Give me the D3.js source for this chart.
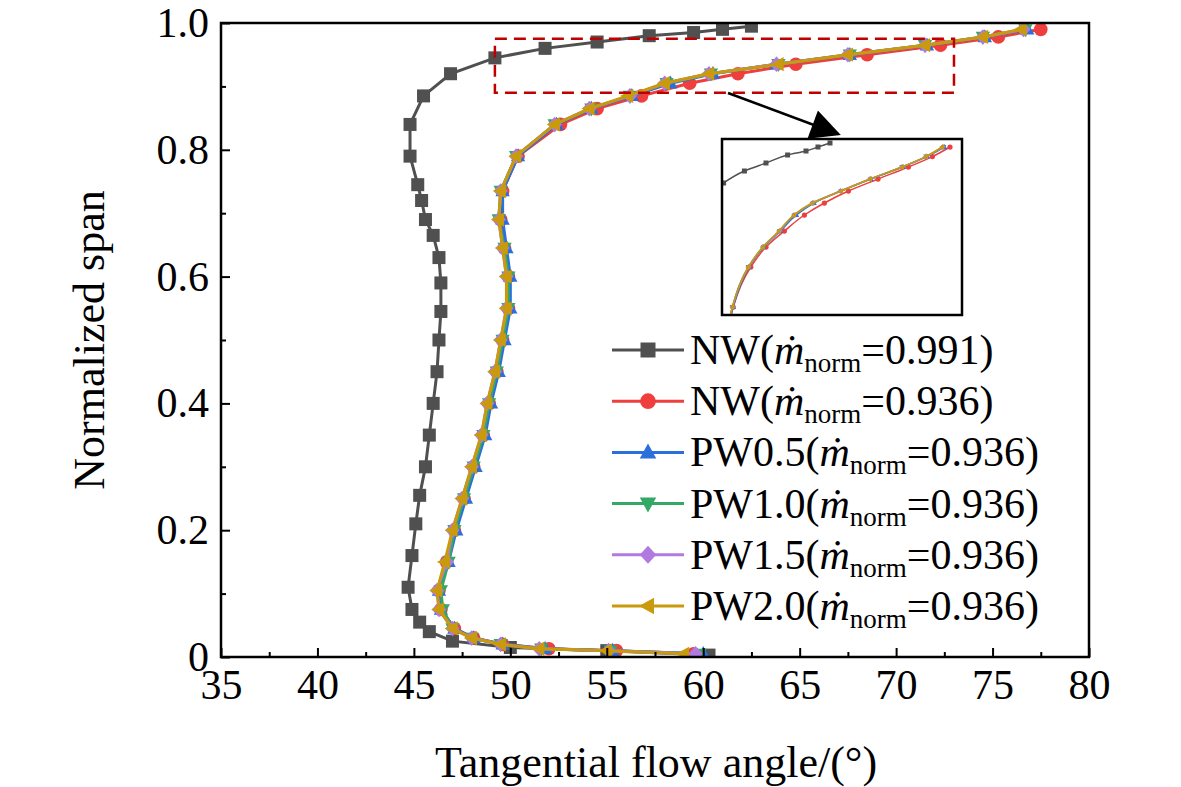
<!DOCTYPE html>
<html><head><meta charset="utf-8">
<script src="https://cdn.jsdelivr.net/npm/d3@7"></script>
<style>body{margin:0;background:#fff}text{font-family:"Liberation Serif","Times New Roman",serif}</style>
</head><body><svg id="c" width="1181" height="787"></svg>
<script>
// NW (mdot=0.991)
var spanNW991 = [0.003,0.01,0.015,0.025,0.04,0.055,0.075,0.11,0.16,0.21,0.255,0.30,0.35,0.40,0.45,0.50,0.545,0.59,0.63,0.665,0.69,0.72,0.745,0.79,0.84,0.885,0.92,0.945,0.96,0.97,0.98,0.985,0.99,0.995];
var angleNW991 = [60.3,55,50,47,45.8,45.3,44.9,44.7,44.9,45.1,45.3,45.6,45.8,46.0,46.2,46.3,46.4,46.4,46.3,46.0,45.6,45.4,45.2,44.8,44.8,45.5,46.9,49.2,51.8,54.5,57.2,59.5,61,62.5];
// other cases share the span stations
var spanLow = [0.005,0.01,0.013,0.02,0.03,0.045,0.075,0.105,0.15,0.2,0.25,0.3,0.35,0.4,0.45,0.5,0.55,0.6,0.645,0.69,0.735,0.79,0.84,0.865,0.885,0.905,0.92,0.935,0.95,0.965,0.978,0.99];
var angleNW936  = [59.5,55.5,52,49.6,48.1,47.1,46.4,46.3,46.7,47.1,47.6,48.1,48.6,48.9,49.3,49.6,49.9,49.9,49.7,49.5,49.6,50.4,52.6,54.5,56.8,59.3,61.8,64.8,68.5,72.3,75.3,77.5];
var anglePW05   = [60.0,55.3,51.8,49.6,48.1,47.1,46.4,46.3,46.8,47.2,47.7,48.2,48.7,49.0,49.4,49.7,50.0,50.0,49.8,49.6,49.6,50.4,52.4,54.2,56.3,58.3,60.5,63.8,67.6,71.6,74.6,76.8];
var anglePW10   = [59.8,55.2,51.6,49.5,48.0,47.0,46.5,46.4,46.8,47.1,47.6,48.1,48.6,48.9,49.3,49.6,49.9,49.9,49.7,49.4,49.5,50.3,52.3,54.2,56.2,58.1,60.4,63.9,67.6,71.5,74.5,76.7];
var anglePW15   = [59.6,55.1,51.5,49.5,48.0,47.0,46.3,46.2,46.7,47.0,47.5,48.0,48.5,48.8,49.2,49.5,49.8,49.8,49.6,49.4,49.5,50.3,52.3,54.1,56.2,58.0,60.3,63.8,67.5,71.5,74.5,76.6];
var anglePW20   = [59.0,55.0,51.5,49.5,48.0,47.0,46.3,46.2,46.6,47.0,47.5,48.0,48.5,48.8,49.2,49.5,49.8,49.8,49.6,49.4,49.5,50.3,52.3,54.1,56.1,58.0,60.3,63.9,67.5,71.5,74.5,76.5];
var seriesNames = ["NW(", "NW(", "PW0.5(", "PW1.0(", "PW1.5(", "PW2.0("];
var massFlow = ["0.991","0.936","0.936","0.936","0.936","0.936"];
var colors = ["#505050","#ef3e3e","#2a6fdb","#34a865","#b07ae0","#c99a0c"];
var shapes = ["square","circle","triUp","triDown","diamond","triLeft"];
var xTicks = [35,40,45,50,55,60,65,70,75,80];
var yTicks = [0,0.2,0.4,0.6,0.8,1.0];

var series = [
  {x: angleNW991, y: spanNW991},
  {x: angleNW936, y: spanLow},
  {x: anglePW05, y: spanLow},
  {x: anglePW10, y: spanLow},
  {x: anglePW15, y: spanLow},
  {x: anglePW20, y: spanLow}
];

var svg = d3.select("#c");
var L = 221, R = 1089, T = 23, B = 657;
var x = d3.scaleLinear().domain([35,80]).range([L,R]);
var y = d3.scaleLinear().domain([0,1]).range([B,T]);

function marker(g, shape, size, col) {
  var s = size/2, p;
  if (shape == "square") return g.append("rect").attr("x",-s).attr("y",-s).attr("width",size).attr("height",size).attr("fill",col);
  if (shape == "circle") return g.append("circle").attr("r",s*1.05).attr("fill",col);
  if (shape == "triUp") p = [[0,-s*1.2],[s*1.1,s*0.8],[-s*1.1,s*0.8]];
  if (shape == "triDown") p = [[0,s*1.2],[s*1.1,-s*0.8],[-s*1.1,-s*0.8]];
  if (shape == "diamond") p = [[0,-s*1.2],[s*1.1,0],[0,s*1.2],[-s*1.1,0]];
  if (shape == "triLeft") p = [[-s*1.2,0],[s*0.8,-s*1.1],[s*0.8,s*1.1]];
  return g.append("path").attr("d","M"+p.join("L")+"Z").attr("fill",col);
}

svg.append("clipPath").attr("id","pc").append("rect").attr("x",L).attr("y",T).attr("width",R-L).attr("height",B-T);
var plot = svg.append("g").attr("clip-path","url(#pc)");
var line = d3.line().x(function(d){return x(d[0]);}).y(function(d){return y(d[1]);});
series.forEach(function(s, i) {
  var pts = s.x.map(function(v,k){return [v, s.y[k]];});
  plot.append("path").attr("d", line(pts)).attr("fill","none").attr("stroke",colors[i]).attr("stroke-width",3);
  pts.forEach(function(p) {
    var g = plot.append("g").attr("transform","translate("+x(p[0])+","+y(p[1])+")");
    marker(g, shapes[i], 13, colors[i]);
  });
});

// axes
var fs = 42;
var gx = svg.append("g").attr("transform","translate(0,"+B+")");
gx.call(d3.axisBottom(x).tickValues(xTicks).tickSize(-9).tickPadding(12).tickFormat(d3.format("d")));
gx.append("g").call(d3.axisBottom(x).tickValues(d3.range(37.5,80,5)).tickSize(-5).tickFormat(""));
var gy = svg.append("g").attr("transform","translate("+L+",0)");
gy.call(d3.axisLeft(y).tickValues(yTicks).tickSize(-9).tickPadding(12).tickFormat(function(d){return d==0?"0":d.toFixed(1);}));
gy.append("g").call(d3.axisLeft(y).tickValues([0.1,0.3,0.5,0.7,0.9]).tickSize(-5).tickFormat(""));
svg.selectAll(".domain").remove();
svg.selectAll(".tick line").attr("stroke","#000").attr("stroke-width",2);
svg.selectAll(".tick text").attr("font-size",fs).attr("fill","#000").style("font-family","Liberation Serif");
svg.append("rect").attr("x",L).attr("y",T).attr("width",R-L).attr("height",B-T).attr("fill","none").attr("stroke","#000").attr("stroke-width",2.5);

svg.append("text").attr("x",(L+R)/2+1).attr("y",777).attr("text-anchor","middle").attr("font-size",44).text("Tangential flow angle/(°)");
svg.append("text").attr("transform","translate(104,"+(T+B)/2+") rotate(-90)").attr("text-anchor","middle").attr("font-size",44).text("Normalized span");

// zoom box and inset
var zx0 = 49.2, zx1 = 73, zy0 = 0.89, zy1 = 0.975;
svg.append("rect").attr("x",x(zx0)).attr("y",y(zy1)).attr("width",x(zx1)-x(zx0)).attr("height",y(zy0)-y(zy1))
  .attr("fill","none").attr("stroke","#c00000").attr("stroke-width",2.5).attr("stroke-dasharray","12,7");
svg.append("defs").append("marker").attr("id","ah").attr("viewBox","0 0 10 10").attr("refX",9).attr("refY",5)
  .attr("markerWidth",34).attr("markerHeight",30).attr("orient","auto").attr("markerUnits","userSpaceOnUse")
  .append("path").attr("d","M0,0L10,5L0,10Z");
svg.append("line").attr("x1",728).attr("y1",93).attr("x2",838).attr("y2",134).attr("stroke","#000").attr("stroke-width",2.5).attr("marker-end","url(#ah)");

var iL = 722, iR = 962, iT = 139, iB = 315;
var ix = d3.scaleLinear().domain([49,79]).range([iL,iR]);
var iy = d3.scaleLinear().domain([0.78,1.0]).range([iB,iT]);
svg.append("clipPath").attr("id","ic").append("rect").attr("x",iL).attr("y",iT).attr("width",iR-iL).attr("height",iB-iT);
var inset = svg.append("g").attr("clip-path","url(#ic)");
var iline = d3.line().curve(d3.curveMonotoneY).x(function(d){return ix(d[0]);}).y(function(d){return iy(d[1]);});
series.forEach(function(s, i) {
  var pts = s.x.map(function(v,k){return [v, s.y[k]];});
  inset.append("path").attr("d", iline(pts)).attr("fill","none").attr("stroke",colors[i]).attr("stroke-width",1.5);
  pts.forEach(function(p) {
    var g = inset.append("g").attr("transform","translate("+ix(p[0])+","+iy(p[1])+")");
    marker(g, shapes[i], 5, colors[i]);
  });
});
svg.append("rect").attr("x",iL).attr("y",iT).attr("width",iR-iL).attr("height",iB-iT).attr("fill","none").attr("stroke","#000").attr("stroke-width",2.5);

// legend
var ly0 = 350, ldy = 51.2;
seriesNames.forEach(function(n, i) {
  var yy = ly0 + i*ldy;
  var g = svg.append("g");
  g.append("line").attr("x1",612).attr("x2",684).attr("y1",yy).attr("y2",yy).attr("stroke",colors[i]).attr("stroke-width",3);
  marker(g.append("g").attr("transform","translate(648,"+yy+")"), shapes[i], 15, colors[i]);
  var t = g.append("text").attr("x",690).attr("y",yy+14).attr("font-size",42);
  t.append("tspan").text(n);
  t.append("tspan").attr("font-style","italic").text("ṁ");
  t.append("tspan").attr("font-size",27).attr("dy",8).text("norm");
  t.append("tspan").attr("dy",-8).text("=" + massFlow[i] + ")");
});
</script></body></html>
